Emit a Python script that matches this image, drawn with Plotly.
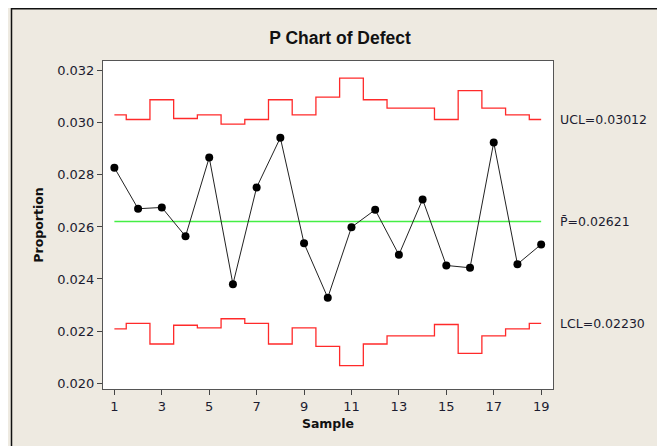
import plotly.graph_objects as go

samples = list(range(1, 20))
proportion = [0.02828, 0.02670, 0.02675, 0.02564, 0.02867, 0.02380, 0.02752, 0.02943, 0.02537, 0.02328,
              0.02599, 0.02666, 0.02493, 0.02706, 0.02452, 0.02443, 0.02925, 0.02457, 0.02533]
ucl = [0.03031, 0.03013, 0.03089, 0.03017, 0.03031, 0.02995, 0.03013, 0.03089, 0.03031, 0.03099,
       0.03172, 0.03089, 0.03057, 0.03057, 0.03013, 0.03124, 0.03057, 0.03031, 0.03013]
lcl = [0.02208, 0.02229, 0.02150, 0.02222, 0.02212, 0.02247, 0.02229, 0.02150, 0.02212, 0.02141,
       0.02067, 0.02150, 0.02181, 0.02181, 0.02225, 0.02114, 0.02181, 0.02208, 0.02229]
pbar = 0.02621
ucl_label = "UCL=0.03012"
pbar_label = "P\u0304=0.02621"
lcl_label = "LCL=0.02230"
ucl_last = 0.03012
lcl_last = 0.02230
y_ticks = [0.020, 0.022, 0.024, 0.026, 0.028, 0.030, 0.032]
x_ticks = [1, 3, 5, 7, 9, 11, 13, 15, 17, 19]

# the page adds an 8px body margin (white), which forms the white strip at top/left
W, H = 657, 438
L, R, T, B = 95, 545, 53, 381

def px(x):
    return (x - L) / (R - L)

def py(y):
    return 1 - (y - T) / (B - T)

txt = "#1c1c30"
fig = go.Figure()
fig.add_trace(go.Scatter(x=samples, y=ucl, mode="lines", line=dict(color="#ff2a2a", width=1.3, shape="hvh"),
                         hoverinfo="skip", showlegend=False))
fig.add_trace(go.Scatter(x=samples, y=lcl, mode="lines", line=dict(color="#ff2a2a", width=1.3, shape="hvh"),
                         hoverinfo="skip", showlegend=False))
fig.add_trace(go.Scatter(x=[samples[0], samples[-1]], y=[pbar, pbar], mode="lines",
                         line=dict(color="#44ee44", width=1.5), hoverinfo="skip", showlegend=False))
fig.add_trace(go.Scatter(x=samples, y=proportion, mode="lines+markers",
                         line=dict(color="#222222", width=1), marker=dict(color="black", size=8),
                         showlegend=False))

# labels on the right
for lab, yv in [(ucl_label, ucl_last), (pbar_label, pbar), (lcl_label, lcl_last)]:
    fig.add_annotation(x=1, xref="paper", xshift=5, y=yv, yref="y", text=lab, showarrow=False,
                       xanchor="left", yanchor="middle",
                       font=dict(family="DejaVu Sans", size=12.5, color=txt))

# dark border lines of the outer frame
fig.add_shape(type="line", xref="paper", yref="paper", x0=px(3), x1=px(W + 5), y0=py(0.75), y1=py(0.75),
              line=dict(color="#111111", width=1.5), layer="below")
fig.add_shape(type="line", xref="paper", yref="paper", x0=px(3.5), x1=px(3.5), y0=py(0), y1=py(H + 5),
              line=dict(color="#111111", width=1.5), layer="below")

fig.update_layout(
    width=W, height=H,
    margin=dict(l=L, r=W - R, t=T, b=H - B, pad=0),
    paper_bgcolor="#eeeae1",
    plot_bgcolor="white",
    title=dict(text="<b>P Chart of Defect</b>", x=px(332), xref="paper", xanchor="center",
               y=1 - 30 / H, yref="container", yanchor="middle",
               font=dict(family="Liberation Sans", size=17.5, color="#111111")),
    font=dict(family="DejaVu Sans", color=txt),
)
fig.update_xaxes(range=[0.52, 19.5], tickvals=x_ticks, ticks="outside", ticklen=5, tickcolor="#444",
                 showgrid=False, zeroline=False, showline=True, linecolor="#555", linewidth=1, mirror=True,
                 tickfont=dict(family="DejaVu Sans", size=13, color=txt),
                 title=dict(text="<b>Sample</b>", font=dict(family="DejaVu Sans", size=12.5, color="#111"),
                            standoff=6))
fig.update_yaxes(range=[0.01977, 0.03238], tickvals=y_ticks, tickformat=".3f", ticks="outside", ticklen=5,
                 tickcolor="#444", showgrid=False, zeroline=False, showline=True, linecolor="#555",
                 linewidth=1, mirror=True,
                 tickfont=dict(family="DejaVu Sans", size=13, color=txt),
                 title=dict(text="<b>Proportion</b>", font=dict(family="DejaVu Sans", size=12.5, color="#111"),
                            standoff=10))

fig.write_html("out.html")
